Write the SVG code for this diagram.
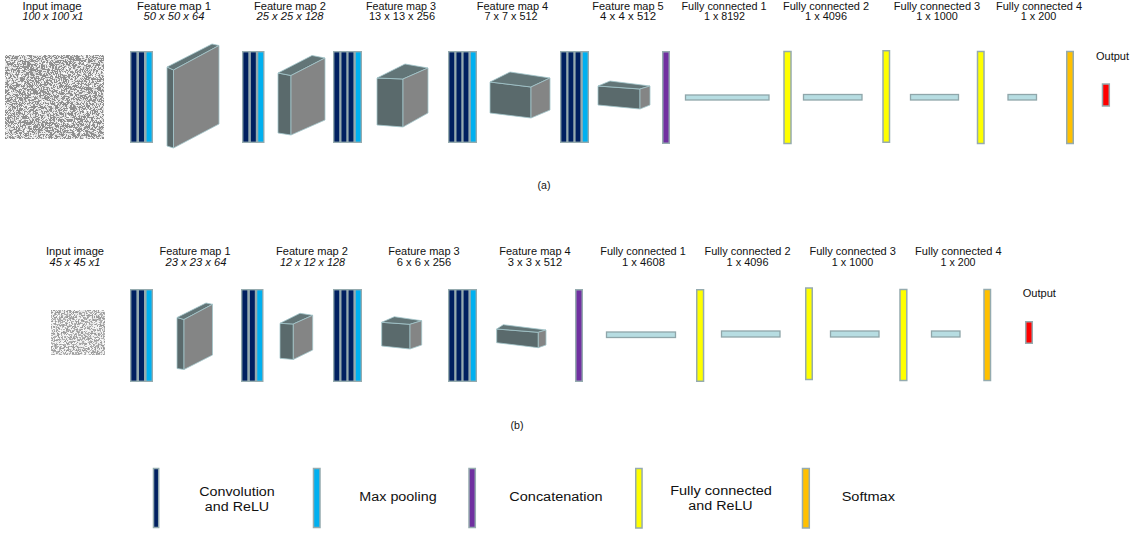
<svg xmlns="http://www.w3.org/2000/svg" width="1139" height="533" viewBox="0 0 1139 533">
<style>
text{font-family:"Liberation Sans",Arial,sans-serif;fill:#111111;}
.lb{font-size:10px;text-anchor:middle;}
.it{font-style:italic;}
.lg{font-size:12px;text-anchor:middle;}
.blk{fill:#95abaf;}
.cv{fill:#002060;}
.mp{fill:#00b0f0;}
.bar{stroke:#95abaf;stroke-width:1.5;}
.cc{fill:#7030a0;}
.fy{fill:#ffff00;}
.sm{fill:#ffc000;}
.out{fill:#ff0000;}
.fc{fill:#b7dde2;stroke:#8fa6aa;stroke-width:1.3;}
.lf{fill:#5a6a6c;stroke:#a3c6cb;stroke-width:0.8;stroke-linejoin:round;}
.tp{fill:#627577;stroke:#a3c6cb;stroke-width:0.8;stroke-linejoin:round;}
.fr{fill:#848585;stroke:#a3c6cb;stroke-width:0.8;stroke-linejoin:round;}
</style>
<defs>
<filter id="noise" x="0" y="0" width="1" height="1" color-interpolation-filters="sRGB">
<feTurbulence type="fractalNoise" baseFrequency="0.32" numOctaves="2" seed="7" result="t"/>
<feColorMatrix in="t" type="matrix" values="1 0 0 0 0  1 0 0 0 0  1 0 0 0 0  0 0 0 0 1" result="g"/>
<feComponentTransfer in="g">
<feFuncR type="discrete" tableValues="0.55 0.55 0.6 0.55 0.93 0.58 0.85 1 1 1"/>
<feFuncG type="discrete" tableValues="0.55 0.55 0.6 0.55 0.93 0.58 0.85 1 1 1"/>
<feFuncB type="discrete" tableValues="0.55 0.55 0.6 0.55 0.93 0.58 0.85 1 1 1"/>
</feComponentTransfer>
</filter>
<filter id="noise2" x="0" y="0" width="1" height="1" color-interpolation-filters="sRGB">
<feTurbulence type="fractalNoise" baseFrequency="0.6" numOctaves="2" seed="11" result="t"/>
<feColorMatrix in="t" type="matrix" values="1 0 0 0 0  1 0 0 0 0  1 0 0 0 0  0 0 0 0 1" result="g"/>
<feComponentTransfer in="g">
<feFuncR type="discrete" tableValues="0.6 0.6 0.65 0.6 0.95 0.7 0.9 1 1 1"/>
<feFuncG type="discrete" tableValues="0.6 0.6 0.65 0.6 0.95 0.7 0.9 1 1 1"/>
<feFuncB type="discrete" tableValues="0.6 0.6 0.65 0.6 0.95 0.7 0.9 1 1 1"/>
</feComponentTransfer>
</filter>
</defs>
<rect width="1139" height="533" fill="#ffffff"/>

<!-- ===== Row (a) labels ===== -->
<g id="labels-a">
<text class="lb" x="52" y="9.5" textLength="59" lengthAdjust="spacingAndGlyphs">Input image</text>
<text class="lb it" x="53" y="20" textLength="61" lengthAdjust="spacingAndGlyphs">100 x 100 x1</text>
<text class="lb" x="174" y="9.5" textLength="74" lengthAdjust="spacingAndGlyphs">Feature map 1</text>
<text class="lb it" x="174" y="20" textLength="61" lengthAdjust="spacingAndGlyphs">50 x 50 x 64</text>
<text class="lb" x="290" y="9.5" textLength="72" lengthAdjust="spacingAndGlyphs">Feature map 2</text>
<text class="lb it" x="290" y="20" textLength="67" lengthAdjust="spacingAndGlyphs">25 x 25 x 128</text>
<text class="lb" x="401" y="9.5" textLength="70" lengthAdjust="spacingAndGlyphs">Feature map 3</text>
<text class="lb" x="402" y="20" textLength="66" lengthAdjust="spacingAndGlyphs">13 x 13 x 256</text>
<text class="lb" x="512.5" y="9.5" textLength="71.5" lengthAdjust="spacingAndGlyphs">Feature map 4</text>
<text class="lb" x="511" y="20" textLength="53" lengthAdjust="spacingAndGlyphs">7 x 7 x 512</text>
<text class="lb" x="628" y="9.5" textLength="71.5" lengthAdjust="spacingAndGlyphs">Feature map 5</text>
<text class="lb" x="628" y="20" textLength="56" lengthAdjust="spacingAndGlyphs">4 x 4 x 512</text>
<text class="lb" x="724" y="9.5" textLength="85" lengthAdjust="spacingAndGlyphs">Fully connected 1</text>
<text class="lb" x="724.5" y="20" textLength="41" lengthAdjust="spacingAndGlyphs">1 x 8192</text>
<text class="lb" x="826" y="9.5" textLength="86" lengthAdjust="spacingAndGlyphs">Fully connected 2</text>
<text class="lb" x="826" y="20" textLength="42" lengthAdjust="spacingAndGlyphs">1 x 4096</text>
<text class="lb" x="937" y="9.5" textLength="86.5" lengthAdjust="spacingAndGlyphs">Fully connected 3</text>
<text class="lb" x="937" y="20" textLength="41.5" lengthAdjust="spacingAndGlyphs">1 x 1000</text>
<text class="lb" x="1039" y="9.5" textLength="86" lengthAdjust="spacingAndGlyphs">Fully connected 4</text>
<text class="lb" x="1038.5" y="20" textLength="35.5" lengthAdjust="spacingAndGlyphs">1 x 200</text>
<text class="lb" x="1112.5" y="59.5" textLength="33" lengthAdjust="spacingAndGlyphs">Output</text>
<text class="lb" x="544" y="188.5" textLength="13" lengthAdjust="spacingAndGlyphs">(a)</text>
</g>

<!-- ===== Row (a) nodes ===== -->
<g id="a-input"><rect x="5" y="55" width="99" height="84" fill="#aaa" filter="url(#noise)"/></g>

<g id="a-conv1">
<rect class="blk" x="130" y="51" width="23" height="92"/>
<rect class="cv" x="131.4" y="52.4" width="5" height="89.2"/>
<rect class="cv" x="139" y="52.4" width="5" height="89.2"/>
<rect class="mp" x="146.6" y="52.4" width="5" height="89.2"/>
</g>
<g id="a-fm1">
<polygon class="lf" points="167,67 173.5,70 173.5,148 167,146"/>
<polygon class="tp" points="167,67 212,44 219,45.5 173.5,70"/>
<polygon class="fr" points="173.5,70 219,45.5 219,124 173.5,148"/>
</g>
<g id="a-conv2">
<rect class="blk" x="242" y="51" width="22.5" height="92"/>
<rect class="cv" x="243.4" y="52.4" width="4.9" height="89.2"/>
<rect class="cv" x="250.9" y="52.4" width="4.9" height="89.2"/>
<rect class="mp" x="258.3" y="52.4" width="4.9" height="89.2"/>
</g>
<g id="a-fm2">
<polygon class="lf" points="278,73 291,75.5 291,135 278,133"/>
<polygon class="tp" points="278,73 312,55.5 325,58 291,75.5"/>
<polygon class="fr" points="291,75.5 325,58 325,120 291,135"/>
</g>
<g id="a-conv3">
<rect class="blk" x="333" y="51" width="29" height="92"/>
<rect class="cv" x="334.4" y="52.4" width="4.8" height="89.2"/>
<rect class="cv" x="341.5" y="52.4" width="4.8" height="89.2"/>
<rect class="cv" x="348.6" y="52.4" width="4.8" height="89.2"/>
<rect class="mp" x="355.8" y="52.4" width="4.8" height="89.2"/>
</g>
<g id="a-fm3">
<polygon class="lf" points="377,78 403,79 403,127 377,125"/>
<polygon class="tp" points="377,78 405,64 428,68 403,79"/>
<polygon class="fr" points="403,79 428,68 428,113 403,127"/>
</g>
<g id="a-conv4">
<rect class="blk" x="448" y="51" width="29" height="92"/>
<rect class="cv" x="449.4" y="52.4" width="4.8" height="89.2"/>
<rect class="cv" x="456.5" y="52.4" width="4.8" height="89.2"/>
<rect class="cv" x="463.6" y="52.4" width="4.8" height="89.2"/>
<rect class="mp" x="470.8" y="52.4" width="4.8" height="89.2"/>
</g>
<g id="a-fm4">
<polygon class="lf" points="490,82 531,87 531,118 490,113"/>
<polygon class="tp" points="490,82 510,72 550,78 531,87"/>
<polygon class="fr" points="531,87 550,78 550,110 531,118"/>
</g>
<g id="a-conv5">
<rect class="blk" x="560" y="51" width="29" height="92"/>
<rect class="cv" x="561.4" y="52.4" width="4.8" height="89.2"/>
<rect class="cv" x="568.5" y="52.4" width="4.8" height="89.2"/>
<rect class="cv" x="575.6" y="52.4" width="4.8" height="89.2"/>
<rect class="mp" x="582.8" y="52.4" width="4.8" height="89.2"/>
</g>
<g id="a-fm5">
<polygon class="lf" points="598,86 640,89 640,109 598,105"/>
<polygon class="tp" points="598,86 610,81 650,86 640,89"/>
<polygon class="fr" points="640,89 650,86 650,105 640,109"/>
</g>
<g id="a-concat"><rect class="bar cc" x="662.75" y="51.75" width="6.5" height="91.5"/></g>
<g id="a-fc1"><rect class="fc" x="685.5" y="95" width="83.5" height="5"/></g>
<g id="a-fcrelu1"><rect class="bar fy" x="784" y="51.5" width="7" height="92"/></g>
<g id="a-fc2"><rect class="fc" x="803.5" y="94.5" width="58.5" height="5.5"/></g>
<g id="a-fcrelu2"><rect class="bar fy" x="883" y="50.75" width="6.5" height="91.5"/></g>
<g id="a-fc3"><rect class="fc" x="910.5" y="94.5" width="48" height="5.5"/></g>
<g id="a-fcrelu3"><rect class="bar fy" x="977.5" y="51.5" width="6.5" height="92"/></g>
<g id="a-fc4"><rect class="fc" x="1008" y="94.5" width="28.5" height="5.5"/></g>
<g id="a-softmax"><rect class="bar sm" x="1066.75" y="51.5" width="6.5" height="92"/></g>
<g id="a-output"><rect class="bar out" x="1102.5" y="84" width="6.8" height="22"/></g>

<!-- ===== Row (b) labels ===== -->
<g id="labels-b">
<text class="lb" x="75" y="254.5" textLength="58" lengthAdjust="spacingAndGlyphs">Input image</text>
<text class="lb it" x="75" y="265.5" textLength="51" lengthAdjust="spacingAndGlyphs">45 x 45 x1</text>
<text class="lb" x="195" y="254.5" textLength="71" lengthAdjust="spacingAndGlyphs">Feature map 1</text>
<text class="lb it" x="196" y="265.5" textLength="61" lengthAdjust="spacingAndGlyphs">23 x 23 x 64</text>
<text class="lb" x="312" y="254.5" textLength="72" lengthAdjust="spacingAndGlyphs">Feature map 2</text>
<text class="lb it" x="312.5" y="265.5" textLength="65" lengthAdjust="spacingAndGlyphs">12 x 12 x 128</text>
<text class="lb" x="424" y="254.5" textLength="71.5" lengthAdjust="spacingAndGlyphs">Feature map 3</text>
<text class="lb" x="424" y="265.5" textLength="54.5" lengthAdjust="spacingAndGlyphs">6 x 6 x 256</text>
<text class="lb" x="535" y="254.5" textLength="71.5" lengthAdjust="spacingAndGlyphs">Feature map 4</text>
<text class="lb" x="535" y="265.5" textLength="54.5" lengthAdjust="spacingAndGlyphs">3 x 3 x 512</text>
<text class="lb" x="643" y="254.5" textLength="85.5" lengthAdjust="spacingAndGlyphs">Fully connected 1</text>
<text class="lb" x="643.5" y="265.5" textLength="43" lengthAdjust="spacingAndGlyphs">1 x 4608</text>
<text class="lb" x="747.5" y="254.5" textLength="86" lengthAdjust="spacingAndGlyphs">Fully connected 2</text>
<text class="lb" x="747.5" y="265.5" textLength="42" lengthAdjust="spacingAndGlyphs">1 x 4096</text>
<text class="lb" x="852.7" y="254.5" textLength="86.5" lengthAdjust="spacingAndGlyphs">Fully connected 3</text>
<text class="lb" x="852.5" y="265.5" textLength="41.5" lengthAdjust="spacingAndGlyphs">1 x 1000</text>
<text class="lb" x="958.3" y="254.5" textLength="86.5" lengthAdjust="spacingAndGlyphs">Fully connected 4</text>
<text class="lb" x="958" y="265.5" textLength="35" lengthAdjust="spacingAndGlyphs">1 x 200</text>
<text class="lb" x="1039.3" y="297" textLength="33.3" lengthAdjust="spacingAndGlyphs">Output</text>
<text class="lb" x="517" y="428.5" textLength="13" lengthAdjust="spacingAndGlyphs">(b)</text>
</g>

<!-- ===== Row (b) nodes ===== -->
<g id="b-input"><rect x="51" y="310" width="54" height="45" fill="#aaa" filter="url(#noise2)"/></g>
<g id="b-conv1">
<rect class="blk" x="130" y="289" width="23" height="93"/>
<rect class="cv" x="131.4" y="290.4" width="5" height="90.2"/>
<rect class="cv" x="139" y="290.4" width="5" height="90.2"/>
<rect class="mp" x="146.6" y="290.4" width="5" height="90.2"/>
</g>
<g id="b-fm1">
<polygon class="lf" points="177,317.5 184,319.5 184,369.5 177,368.5"/>
<polygon class="tp" points="177,317.5 206,303 212.5,304.3 184,319.5"/>
<polygon class="fr" points="184,319.5 212.5,304.3 212.5,355 184,369.5"/>
</g>
<g id="b-conv2">
<rect class="blk" x="241" y="289" width="22.5" height="93"/>
<rect class="cv" x="242.4" y="290.4" width="4.9" height="90.2"/>
<rect class="cv" x="249.9" y="290.4" width="4.9" height="90.2"/>
<rect class="mp" x="257.3" y="290.4" width="4.9" height="90.2"/>
</g>
<g id="b-fm2">
<polygon class="lf" points="280,323.3 293.3,324 293.3,359.5 280,358.3"/>
<polygon class="tp" points="280,323.3 300,313.3 312.7,315.3 293.3,324"/>
<polygon class="fr" points="293.3,324 312.7,315.3 312.7,350 293.3,359.5"/>
</g>
<g id="b-conv3">
<rect class="blk" x="333" y="289" width="29" height="93"/>
<rect class="cv" x="334.4" y="290.4" width="4.8" height="90.2"/>
<rect class="cv" x="341.5" y="290.4" width="4.8" height="90.2"/>
<rect class="cv" x="348.6" y="290.4" width="4.8" height="90.2"/>
<rect class="mp" x="355.8" y="290.4" width="4.8" height="90.2"/>
</g>
<g id="b-fm3">
<polygon class="lf" points="381.7,322.3 410,324.3 410,349 381.7,346"/>
<polygon class="tp" points="381.7,322.3 394.3,316.7 421.7,320.7 410,324.3"/>
<polygon class="fr" points="410,324.3 421.7,320.7 421.7,345 410,349"/>
</g>
<g id="b-conv4">
<rect class="blk" x="448" y="289" width="29" height="93"/>
<rect class="cv" x="449.4" y="290.4" width="4.8" height="90.2"/>
<rect class="cv" x="456.5" y="290.4" width="4.8" height="90.2"/>
<rect class="cv" x="463.6" y="290.4" width="4.8" height="90.2"/>
<rect class="mp" x="470.8" y="290.4" width="4.8" height="90.2"/>
</g>
<g id="b-fm4">
<polygon class="lf" points="496.7,329 538.3,332.3 538.3,347.7 496.7,342.7"/>
<polygon class="tp" points="496.7,329 503.3,324.7 546,330 538.3,332.3"/>
<polygon class="fr" points="538.3,332.3 546,330 546,345 538.3,347.7"/>
</g>
<g id="b-concat"><rect class="bar cc" x="575.75" y="289.75" width="6.5" height="91.5"/></g>
<g id="b-fc1"><rect class="fc" x="606.5" y="332" width="69" height="5.5"/></g>
<g id="b-fcrelu1"><rect class="bar fy" x="696.75" y="289.75" width="6.8" height="91.5"/></g>
<g id="b-fc2"><rect class="fc" x="721.5" y="331" width="58.5" height="6"/></g>
<g id="b-fcrelu2"><rect class="bar fy" x="805.75" y="288" width="6.5" height="91.5"/></g>
<g id="b-fc3"><rect class="fc" x="830.5" y="331" width="48.5" height="6"/></g>
<g id="b-fcrelu3"><rect class="bar fy" x="900" y="289.5" width="6.8" height="91"/></g>
<g id="b-fc4"><rect class="fc" x="931.5" y="331" width="28.5" height="6"/></g>
<g id="b-softmax"><rect class="bar sm" x="984" y="289.5" width="6.5" height="91"/></g>
<g id="b-output"><rect class="bar out" x="1025.75" y="321.75" width="6.5" height="21.5"/></g>

<g id="connectors"></g>

<!-- ===== Legend ===== -->
<g id="legend-conv">
<rect class="bar cv" x="153.5" y="468.5" width="5.2" height="59"/>
<text class="lg" x="237" y="495.5" textLength="75.5" lengthAdjust="spacingAndGlyphs">Convolution</text>
<text class="lg" x="237" y="510.5" textLength="64.3" lengthAdjust="spacingAndGlyphs">and ReLU</text>
</g>
<g id="legend-pool">
<rect class="bar mp" x="313.5" y="468.5" width="6.5" height="59"/>
<text class="lg" x="398" y="501" textLength="77.3" lengthAdjust="spacingAndGlyphs">Max pooling</text>
</g>
<g id="legend-concat">
<rect class="bar cc" x="469" y="468.5" width="6.3" height="59"/>
<text class="lg" x="556" y="501" textLength="93.3" lengthAdjust="spacingAndGlyphs">Concatenation</text>
</g>
<g id="legend-fc">
<rect class="bar fy" x="635.75" y="468.5" width="6.3" height="59.5"/>
<text class="lg" x="721" y="495" textLength="101.7" lengthAdjust="spacingAndGlyphs">Fully connected</text>
<text class="lg" x="720.5" y="510" textLength="64.3" lengthAdjust="spacingAndGlyphs">and ReLU</text>
</g>
<g id="legend-softmax">
<rect class="bar sm" x="802.5" y="468.5" width="6.8" height="59.5"/>
<text class="lg" x="868.3" y="500.5" textLength="53.3" lengthAdjust="spacingAndGlyphs">Softmax</text>
</g>
</svg>
